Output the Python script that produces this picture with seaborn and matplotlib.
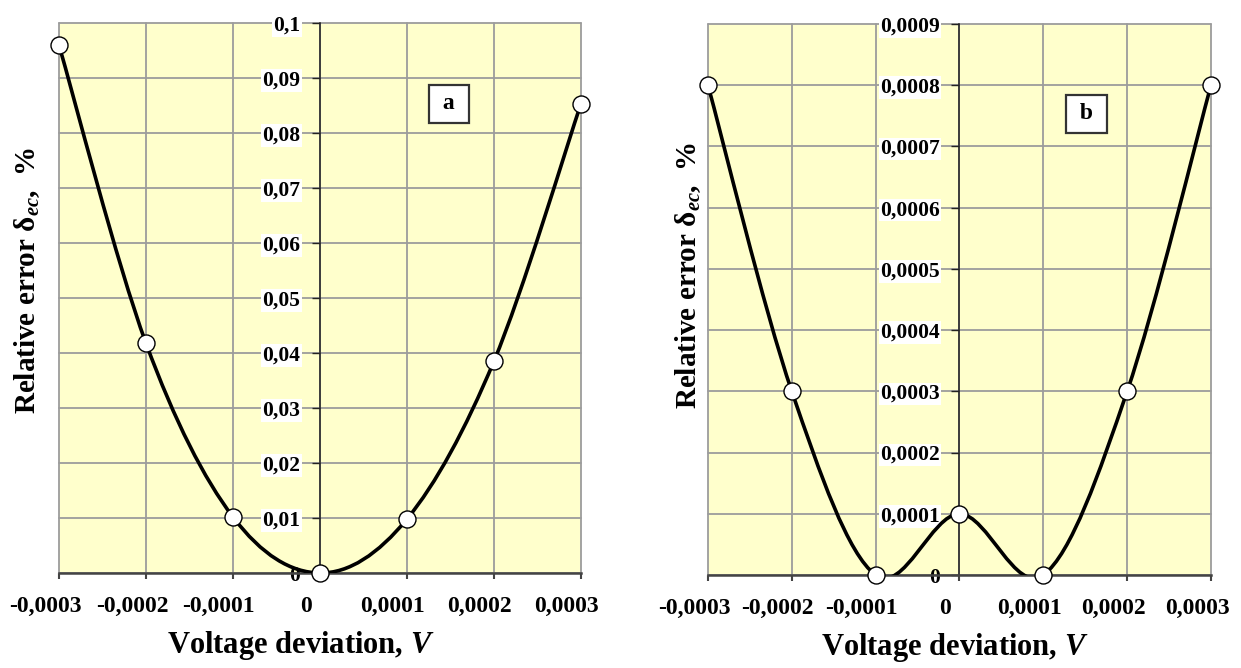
import numpy as np
import pandas as pd
import seaborn as sns
import matplotlib.pyplot as plt
import matplotlib.transforms as mtransforms
from matplotlib.path import Path
from matplotlib.patches import PathPatch
from matplotlib.ticker import FixedLocator, FuncFormatter

# Measured series
voltage = [-0.0003, -0.0002, -0.0001, 0.0, 0.0001, 0.0002, 0.0003]
error_a = [0.096, 0.0418, 0.0102, 0.0, 0.0098, 0.0385, 0.0853]
error_b = [0.0008, 0.0003, 0.0, 0.0001, 0.0, 0.0003, 0.0008]

# Axis ticks
x_ticks = [-0.0003, -0.0002, -0.0001, 0.0, 0.0001, 0.0002, 0.0003]
y_ticks_a = [0.0, 0.01, 0.02, 0.03, 0.04, 0.05, 0.06, 0.07, 0.08, 0.09, 0.1]
y_ticks_b = [0.0, 0.0001, 0.0002, 0.0003, 0.0004, 0.0005,
             0.0006, 0.0007, 0.0008, 0.0009]
panel_names = ["a", "b"]

x_label = r"Voltage deviation, $V$"
y_label = r"Relative error $\mathrm{δ}_{ec}$,  %"

sns.set_theme(style="white")
plt.rcParams["font.family"] = ["Liberation Serif", "DejaVu Serif"]
plt.rcParams["font.weight"] = "bold"
plt.rcParams["mathtext.fontset"] = "custom"
plt.rcParams["mathtext.rm"] = "Liberation Serif:bold"
plt.rcParams["mathtext.it"] = "Liberation Serif:italic:bold"
plt.rcParams["mathtext.bf"] = "Liberation Serif:bold"

GRID = "#9c9c9c"
FACE = "#ffffcc"


def comma_fmt(v, pos=None):
    s = f"{v:.4f}".rstrip("0").rstrip(".")
    if s in ("-0", ""):
        s = "0"
    return s.replace(".", ",")


def smooth_path(xs, ys):
    """Piecewise cubic Bezier through the points (Catmull-Rom style)."""
    pts = np.column_stack([xs, ys]).astype(float)
    n = len(pts)
    verts = [pts[0]]
    codes = [Path.MOVETO]
    for i in range(n - 1):
        p0 = pts[max(i - 1, 0)]
        p1 = pts[i]
        p2 = pts[i + 1]
        p3 = pts[min(i + 2, n - 1)]
        verts += [p1 + (p2 - p0) / 6.0, p2 - (p3 - p1) / 6.0, p2]
        codes += [Path.CURVE4] * 3
    return Path(verts, codes)


fig = plt.figure(figsize=(12.41, 6.68), dpi=100)
fig.patch.set_facecolor("white")

axes_rects = [
    [0.0475, 0.1422, 0.4206, 0.8234],
    [0.5705, 0.1392, 0.4053, 0.8249],
]
series = [error_a, error_b]
y_ticks_list = [y_ticks_a, y_ticks_b]
ylabel_xy = [(-0.061, 0.531), (-0.040, 0.544)]
xlabel_xy = [(0.464, -0.131), (0.491, -0.131)]
box_xy = [(0.747, 0.853), (0.753, 0.837)]

for k in range(2):
    ax = fig.add_axes(axes_rects[k])
    ax.set_facecolor(FACE)
    df = pd.DataFrame({"voltage": voltage, "error": series[k]})

    curve = PathPatch(smooth_path(df["voltage"], df["error"]),
                      facecolor="none", edgecolor="black", lw=2.6,
                      zorder=3, capstyle="round", joinstyle="round")
    ax.add_patch(curve)

    sns.scatterplot(data=df, x="voltage", y="error", ax=ax, s=150,
                    color="white", edgecolor="black", linewidth=1.0,
                    zorder=6, clip_on=False, legend=False)

    yt = y_ticks_list[k]
    ax.set_xlim(x_ticks[0], x_ticks[-1])
    ax.set_ylim(yt[0], yt[-1])
    ax.xaxis.set_major_locator(FixedLocator(x_ticks))
    ax.yaxis.set_major_locator(FixedLocator(yt))
    ax.yaxis.set_major_formatter(FuncFormatter(comma_fmt))

    ax.grid(True, color=GRID, lw=1.3)
    ax.set_axisbelow(True)

    ax.spines["left"].set_position(("data", 0))
    ax.spines["left"].set_color("#222222")
    ax.spines["left"].set_linewidth(1.1)
    ax.spines["bottom"].set_color("#444444")
    ax.spines["bottom"].set_linewidth(1.8)
    ax.spines["top"].set_visible(False)
    ax.spines["right"].set_visible(False)

    ax.tick_params(axis="y", direction="out", length=6, width=1.0,
                   color="#222222", pad=8, labelsize=15.5,
                   labelcolor="black", left=True)
    ax.tick_params(axis="x", direction="out", length=4, width=1.5,
                   color="#444444", labelbottom=False, bottom=True)

    for gl in ax.get_xgridlines() + ax.get_ygridlines():
        gl.set_clip_on(False)
    for lbl in ax.get_yticklabels():
        lbl.set_fontweight("bold")
        if lbl.get_text() != "0":
            lbl.set_bbox(dict(facecolor="white", edgecolor="none", pad=1.0))

    # Voltage tick labels, set a little to the left of their ticks
    xlab_trans = ax.get_xaxis_transform() + mtransforms.ScaledTranslation(
        -0.14, -0.33, fig.dpi_scale_trans)
    for v in x_ticks:
        ax.text(v, 0, comma_fmt(v), transform=xlab_trans, ha="center",
                va="center", fontsize=17, fontweight="bold", color="black",
                clip_on=False)

    ax.set_xlabel(x_label, fontsize=22, fontweight="bold", color="black",
                  va="center")
    ax.xaxis.set_label_coords(*xlabel_xy[k])
    ax.set_ylabel(y_label, fontsize=21, fontweight="bold", color="black",
                  va="center", ha="center")
    ax.yaxis.set_label_coords(*ylabel_xy[k])

    ax.text(box_xy[k][0], box_xy[k][1], f" {panel_names[k]} ",
            transform=ax.transAxes, ha="center", va="center",
            fontsize=17, fontweight="bold", color="black", zorder=7,
            bbox=dict(boxstyle="square,pad=0.35", facecolor="white",
                      edgecolor="#333333", linewidth=1.6))

fig.savefig("out.png", dpi=100, facecolor="white")
